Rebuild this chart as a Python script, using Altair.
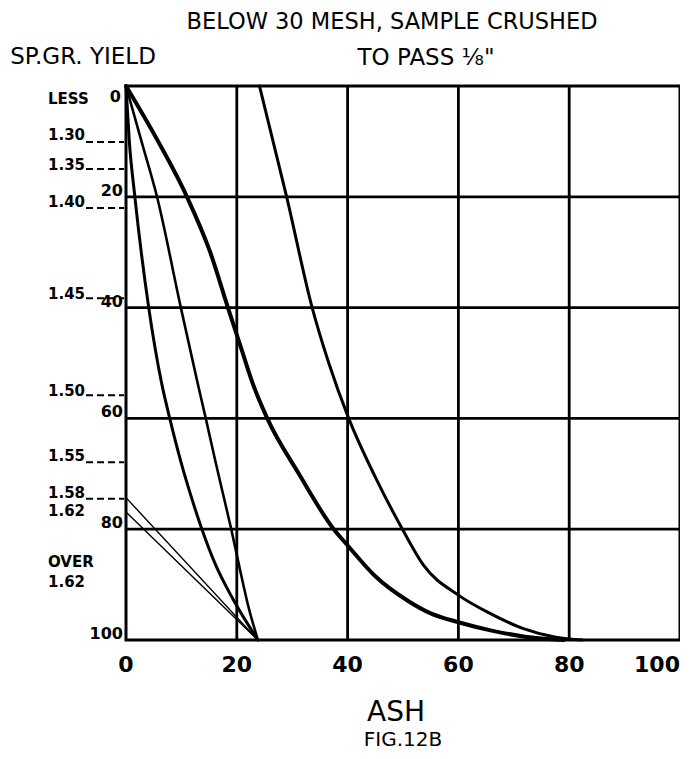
import altair as alt
import pandas as pd

# ---------------- data ----------------
x_ticks = [0, 20, 40, 60, 80, 100]
y_ticks = [0, 20, 40, 60, 80, 100]
grid_x = [20, 40, 60, 80]
grid_y = [20, 40, 60, 80]

# curve 1 (leftmost, from origin to 24 % ash at 100 % yield)
c1_ash = [0, 0.6, 1.6, 4.1, 6.4, 7.9, 9.9, 11.7, 13.7, 16.2, 19.3, 23.8]
c1_yield = [0, 10, 20, 40, 53.5, 60, 67.8, 73.9, 80, 86.5, 92.6, 100]
# curve 2
c2_ash = [0, 2.8, 5.6, 9.9, 12.9, 14.4, 16.2, 17.6, 19.0, 20.6, 22.1, 23.8]
c2_yield = [0, 10, 20, 40, 53.5, 60, 68, 74, 80, 87.4, 94, 100]
# curve 3 (heavy curve, from origin to ~79 % ash)
c3_ash = [0, 5.8, 11.0, 15.2, 18.4, 21.0, 22.8, 25.5, 31.2, 37.5, 39.9, 45, 51, 55, 60, 66, 72, 79]
c3_yield = [0, 10, 20, 30, 40, 48, 53.5, 60, 70, 80, 82.8, 88.5, 93, 95.2, 96.8, 98.3, 99.4, 100]
# curve 4 (sink curve, from 24 % ash at 0 yield)
c4_ash = [24.1, 29.0, 33.6, 36.6, 40.2, 45.0, 49.9, 53.7, 60, 65.7, 71.6, 77.6, 82.4]
c4_yield = [0, 20, 40, 50, 60, 70.6, 80, 86.5, 91.9, 95.2, 97.9, 99.5, 100]
# two thin straight lines
t1_ash = [0, 23.8]
t1_yield = [74.3, 100]
t2_ash = [0, 23.8]
t2_yield = [76.9, 100]

# specific gravity labels on the left
sg_labels = ["LESS", "1.30", "1.35", "1.40", "1.45", "1.50", "1.55", "1.58", "1.62", "OVER", "1.62"]
sg_label_y = [3.4, 9.9, 15.3, 22.0, 38.6, 56.2, 67.9, 74.5, 77.8, 87.0, 90.6]
sg_dash_y = [10.1, 15.0, 22.0, 38.3, 55.8, 67.9, 74.5]

title_1 = "BELOW 30 MESH, SAMPLE CRUSHED"
title_2 = "TO PASS \u215b\""
left_head = "SP.GR.  YIELD"
x_title = "ASH"
fig_label = "FIG.12B"

# ---------------- tables ----------------
rows = []
for name, xs_, ys_ in [("c1", c1_ash, c1_yield), ("c2", c2_ash, c2_yield),
                       ("c3", c3_ash, c3_yield), ("c4", c4_ash, c4_yield),
                       ("t1", t1_ash, t1_yield), ("t2", t2_ash, t2_yield)]:
    for i, (a, y) in enumerate(zip(xs_, ys_)):
        rows.append({"curve": name, "ash": a, "yield": y, "idx": i})
curves = pd.DataFrame(rows)

ylab = pd.DataFrame({"yield": y_ticks, "lab": [str(v) for v in y_ticks]})
xlab = pd.DataFrame({"xt": x_ticks, "lab": [str(v) for v in x_ticks]})
gx = pd.DataFrame({"gx": grid_x})
gy = pd.DataFrame({"gy": grid_y})
sg = pd.DataFrame({"sgy": sg_label_y, "label": sg_labels})
dash = pd.DataFrame({"dy": sg_dash_y})
one = pd.DataFrame({"k": [0]})

W, H = 554, 554
xs = alt.Scale(domain=[0, 100], nice=False, zero=False)
ys = alt.Scale(domain=[0, 100], nice=False, zero=False, reverse=True)

grid_v = alt.Chart(gx).mark_rule(color="black", strokeWidth=2.8).encode(
    x=alt.X("gx:Q", scale=xs, axis=None))
grid_h = alt.Chart(gy).mark_rule(color="black", strokeWidth=2.8).encode(
    y=alt.Y("gy:Q", scale=ys, axis=None))


def curve(name, width):
    return alt.Chart(curves).transform_filter(alt.datum.curve == name).mark_line(
        color="black", strokeWidth=width, interpolate="monotone", strokeCap="round"
    ).encode(
        x=alt.X("ash:Q", scale=xs, axis=None),
        y=alt.Y("yield:Q", scale=ys, axis=None),
        order="idx:Q",
    )


lines = [curve("c1", 3), curve("c2", 2.6), curve("c3", 4), curve("c4", 3),
         curve("t1", 1.4), curve("t2", 1.4)]

xl = alt.Chart(xlab).transform_filter(alt.datum.xt < 100).mark_text(
    align="center", baseline="top", font="DejaVu Sans", fontSize=22, fontWeight="bold", color="black"
).encode(x=alt.X("xt:Q", scale=xs, axis=None), y=alt.value(H + 15), text="lab:N")
# last tick label kept fully inside the page (the scan cuts it at the edge)
xl_last = alt.Chart(xlab).transform_filter(alt.datum.xt == 100).mark_text(
    align="right", baseline="top", font="DejaVu Sans", fontSize=22, fontWeight="bold", color="black"
).encode(x=alt.X("xt:Q", scale=xs, axis=None), y=alt.value(H + 15), text="lab:N")

yl_top = alt.Chart(ylab).transform_filter(alt.datum["yield"] == 0).mark_text(
    align="right", baseline="top", dy=3, font="DejaVu Sans", fontSize=16, fontWeight="bold", color="black"
).encode(x=alt.value(-5), y=alt.Y("yield:Q", scale=ys, axis=None), text="lab:N")
yl_rest = alt.Chart(ylab).transform_filter(alt.datum["yield"] > 0).mark_text(
    align="right", baseline="alphabetic", dy=-1, font="DejaVu Sans", fontSize=16, fontWeight="bold", color="black"
).encode(x=alt.value(-3), y=alt.Y("yield:Q", scale=ys, axis=None), text="lab:N")

sg_text = alt.Chart(sg).mark_text(
    align="left", baseline="alphabetic", dy=-1, font="DejaVu Sans", fontSize=15, fontWeight="bold", color="black"
).encode(x=alt.value(-78), y=alt.Y("sgy:Q", scale=ys, axis=None), text="label:N")

sg_dash = alt.Chart(dash).mark_rule(color="black", strokeWidth=2, strokeDash=[7, 4]).encode(
    x=alt.value(-40), x2=alt.value(-2), y=alt.Y("dy:Q", scale=ys, axis=None)
)


def label(text, x, y, size, weight="normal"):
    return alt.Chart(one).mark_text(
        text=text, align="center", baseline="alphabetic", font="DejaVu Sans",
        fontSize=size, fontWeight=weight, color="black"
    ).encode(x=alt.value(x), y=alt.value(y))


texts = [
    label(title_1, 266, -57, 22.5),
    label(title_2, 300, -21, 23),
    label(left_head, -43, -22, 23),
    label(x_title, 270, 635, 28),
    label(fig_label, 277, 660, 20),
]

chart = alt.layer(grid_v, grid_h, *lines, sg_dash, sg_text, yl_top, yl_rest, xl, xl_last, *texts).properties(
    width=W, height=H,
    padding={"left": 118, "top": 78, "right": 0, "bottom": 111},
    autosize=alt.AutoSizeParams(type="none"),
    background="white",
).configure_view(stroke="black", strokeWidth=3)

chart.save("out.html", embed_options={"renderer": "svg", "actions": False})
